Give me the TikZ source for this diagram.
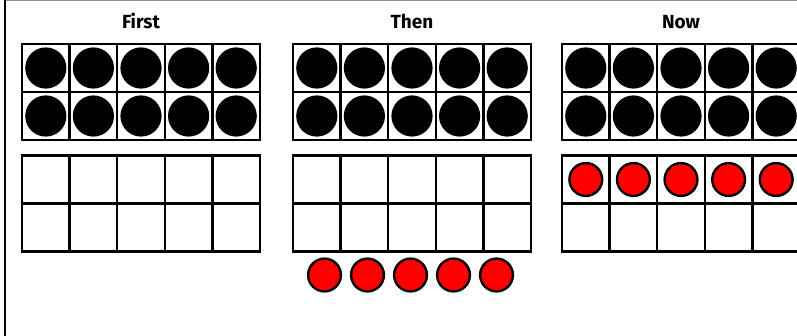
\documentclass[tikz,border=0pt]{standalone}
\usepackage{fontspec}
\setmainfont{Fira Sans}
\begin{document}
\begin{tikzpicture}[x=1pt,y=-1pt,
  gridline/.style={line width=2.5pt,black},
  blackdot/.style={fill=black},
  reddot/.style={fill=red,draw=black,line width=2.4pt},
  title/.style={font=\fontsize{19}{21}\selectfont\bfseries,anchor=base,inner sep=0pt}]
\useasboundingbox (0,0) rectangle (797,336);
\begin{scope}
\clip (0,0) rectangle (797,336);
\fill[white] (0,0) rectangle (797,336);
\draw[gray!90,line width=1.2pt] (4,0.6) -- (797,0.6);
\draw[black,line width=2pt] (4.5,0) -- (4.5,336);
% grids
\foreach \gx in {22,293,562}{
  \foreach \gy in {44,155.5}{
    \foreach \i in {0,...,5}{
      \draw[gridline] (\gx+\i*47.6,\gy) -- (\gx+\i*47.6,\gy+96);
    }
    \foreach \j in {0,1,2}{
      \draw[gridline] (\gx-1.25,\gy+\j*48) -- (\gx+238+1.25,\gy+\j*48);
    }
  }
  % black counters in top grid
  \foreach \i in {0,...,4}{
    \foreach \j in {0,1}{
      \fill[blackdot] (\gx+23.8+\i*47.6,68+\j*48) circle (20.6);
    }
  }
}
% red counters in Now grid top row
\foreach \i in {0,...,4}{
  \filldraw[reddot] (562+23.8+\i*47.6,179.5) circle (16.4);
}
% red counters below Then
\foreach \i in {0,...,4}{
  \filldraw[reddot] (324.5+\i*43,275) circle (16.4);
}
\end{scope}
\node[title] (first) at (141,29) {First};
\node[title] (then) at (412,29) {Then};
\node[title] (now) at (681,29) {Now};
\end{tikzpicture}
\end{document}
